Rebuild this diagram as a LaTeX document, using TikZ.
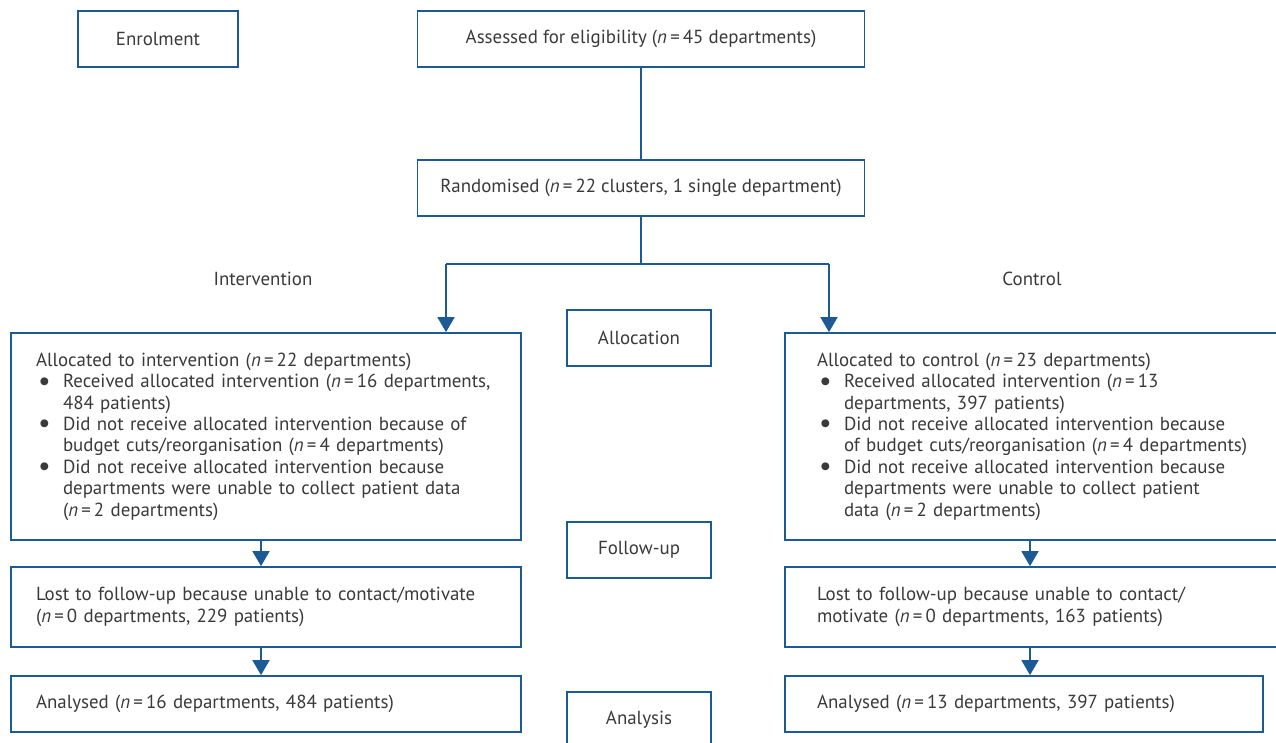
\documentclass[tikz,border=0pt]{standalone}
\usepackage{fontspec}
\setmainfont{PT Sans}
\usetikzlibrary{arrows.meta}
\definecolor{lineblue}{HTML}{1C5A96}
\definecolor{txt}{HTML}{3A3A3A}
\newcommand{\nval}[1]{\textit{n}\,=\,#1}
\newcommand{\bitem}{\makebox[27pt][l]{\hspace{2pt}\raisebox{-2.5pt}{\fontsize{28}{0}\selectfont\textbullet}}}
\newcommand{\bcont}{\hspace*{27pt}}
\begin{document}
\begin{tikzpicture}[x=1pt,y=-1pt,
  every node/.style={text=txt,font=\fontsize{18.9}{21.4}\selectfont},
  box/.style={draw=lineblue,line width=1.8pt,inner sep=0pt,minimum height=56pt},
  lbox/.style={box,align=left,inner ysep=0pt},
  conn/.style={draw=lineblue,line width=1.8pt},
  arr/.style={conn,-{Triangle[width=17pt,length=15pt]}},
  lab/.style={inner sep=0pt}]
\clip (0,0) rectangle (1276,742);
\fill[white] (0,0) rectangle (1276,742);

% stage boxes
\node[box,minimum width=160pt] (enrol) at (158,39) {Enrolment};
\node[box,minimum width=144pt] (alloc) at (639,338) {Allocation};
\node[box,minimum width=144pt] (follow) at (639,550) {Follow-up};
\node[box,minimum width=144pt] (analysis) at (639,720) {Analysis};

% main flow
\node[box,minimum width=447pt] (assess) at (641,39) {Assessed for eligibility (\nval{45} departments)};
\node[box,minimum width=447pt] (rand) at (641,188) {Randomised (\nval{22} clusters, 1 single department)};

\node[lab] (intlab) at (263,279) {Intervention};
\node[lab] (ctllab) at (1032,279) {Control};

% left column
\node[lbox,text width=460pt,inner xsep=25pt,minimum height=207pt] (la) at (266,436.5) {%
Allocated to intervention (\nval{22} departments)\\
\bitem Received allocated intervention (\nval{16} departments,\\
\bcont 484 patients)\\
\bitem Did not receive allocated intervention because of\\
\bcont budget cuts/reorganisation (\nval{4} departments)\\
\bitem Did not receive allocated intervention because\\
\bcont departments were unable to collect patient data\\
\bcont (\nval{2} departments)};
\node[lbox,text width=460pt,inner xsep=25pt,minimum height=80pt] (ll) at (266,607) {%
Lost to follow-up because unable to contact/motivate\\
(\nval{0} departments, 229 patients)};
\node[lbox,text width=460pt,inner xsep=25pt] (lan) at (266,704) {%
Analysed (\nval{16} departments, 484 patients)};

% right column
\node[lbox,text width=446pt,inner xsep=32pt,minimum height=207pt] (ra) at (1040,436.5) {%
Allocated to control (\nval{23} departments)\\
\bitem Received allocated intervention (\nval{13}\\
\bcont departments, 397 patients)\\
\bitem Did not receive allocated intervention because\\
\bcont of budget cuts/reorganisation (\nval{4} departments)\\
\bitem Did not receive allocated intervention because\\
\bcont departments were unable to collect patient\\
\bcont data (\nval{2} departments)};
\node[lbox,text width=446pt,inner xsep=32pt,minimum height=80pt] (rl) at (1040,607) {%
Lost to follow-up because unable to contact/\\
motivate (\nval{0} departments, 163 patients)};
\node[lbox,text width=414pt,inner xsep=32pt] (ran) at (1024,704) {%
Analysed (\nval{13} departments, 397 patients)};

% connectors
\coordinate (sl) at (446,264);
\coordinate (sr) at (829,264);
\coordinate (lx) at (261,0);
\coordinate (rx) at (1030,0);
\draw[conn] (assess.south) -- (rand.north);
\draw[conn] (rand.south) -- (rand.south |- sl);
\draw[conn] (sl) -- (sr);
\draw[arr] (sl) -- (sl |- la.north);
\draw[arr] (sr) -- (sr |- ra.north);
\draw[arr] (la.south -| lx) -- (ll.north -| lx);
\draw[arr] (ll.south -| lx) -- (lan.north -| lx);
\draw[arr] (ra.south -| rx) -- (rl.north -| rx);
\draw[arr] (rl.south -| rx) -- (ran.north -| rx);
\end{tikzpicture}
\end{document}
